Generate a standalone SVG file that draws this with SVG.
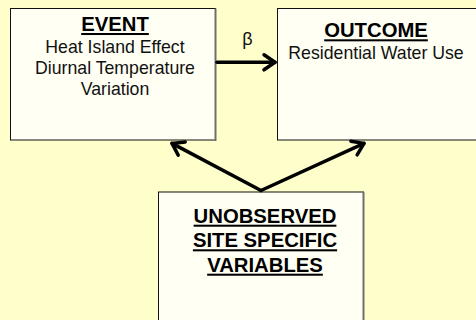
<svg xmlns="http://www.w3.org/2000/svg" width="476" height="320" viewBox="0 0 476 320">
  <style>
    .box { fill: #FFFFF4; stroke: #111; stroke-width: 1; }
    .shadow { stroke: #6E6E6E; stroke-width: 2; }
    .title { font-family: "Liberation Sans", Arial, sans-serif; font-weight: bold; font-size: 20.3px; text-anchor: middle; fill: #000; text-decoration: underline; }
    .body { font-family: "Liberation Sans", Arial, sans-serif; font-size: 17.7px; text-anchor: middle; fill: #111; }
    .conn { stroke: #000; stroke-width: 3.5; fill: none; stroke-linecap: round; }
  </style>
  <defs>
    <marker id="arr" markerUnits="userSpaceOnUse" viewBox="-16 -12 20 24" markerWidth="20" markerHeight="24" refX="0" refY="0" orient="auto">
      <path d="M -11 -7.5 L 0 0 L -11 7.5" fill="none" stroke="#000" stroke-width="3.5" stroke-linecap="round" stroke-linejoin="round"/>
    </marker>
  </defs>
  <rect x="0" y="0" width="476" height="320" fill="#FFFFCC"/>

  <g id="event">
    <rect class="box" x="10.5" y="8.5" width="205" height="131.5"/>
    <line class="shadow" x1="215.5" y1="8.5" x2="215.5" y2="141"/>
    <text class="title" x="115" y="31">EVENT</text>
    <text class="body" x="115" y="53.3">Heat Island Effect</text>
    <text class="body" x="115" y="74">Diurnal Temperature</text>
    <text class="body" x="115" y="95">Variation</text>
  </g>

  <g id="outcome">
    <rect class="box" x="277.5" y="8.5" width="210" height="131.5"/>
    <text class="title" x="376" y="37.3">OUTCOME</text>
    <text class="body" x="376" y="59.3">Residential Water Use</text>
  </g>

  <g id="unobserved">
    <rect class="box" x="158.5" y="192" width="205" height="140"/>
    <line class="shadow" x1="363.5" y1="192" x2="363.5" y2="320"/>
    <text class="title" x="265" y="222.7">UNOBSERVED</text>
    <text class="title" x="265" y="247.3">SITE SPECIFIC</text>
    <text class="title" x="265" y="271.7">VARIABLES</text>
  </g>

  <g id="connectors">
    <line class="conn" x1="217" y1="62.3" x2="275" y2="62.3" marker-end="url(#arr)"/>
    <text class="body" x="247.5" y="44.5" style="font-size:18px">β</text>
    <line class="conn" x1="261" y1="190.5" x2="172" y2="143.4" marker-end="url(#arr)"/>
    <line class="conn" x1="261" y1="190.5" x2="364" y2="143.4" marker-end="url(#arr)"/>
  </g>
</svg>
